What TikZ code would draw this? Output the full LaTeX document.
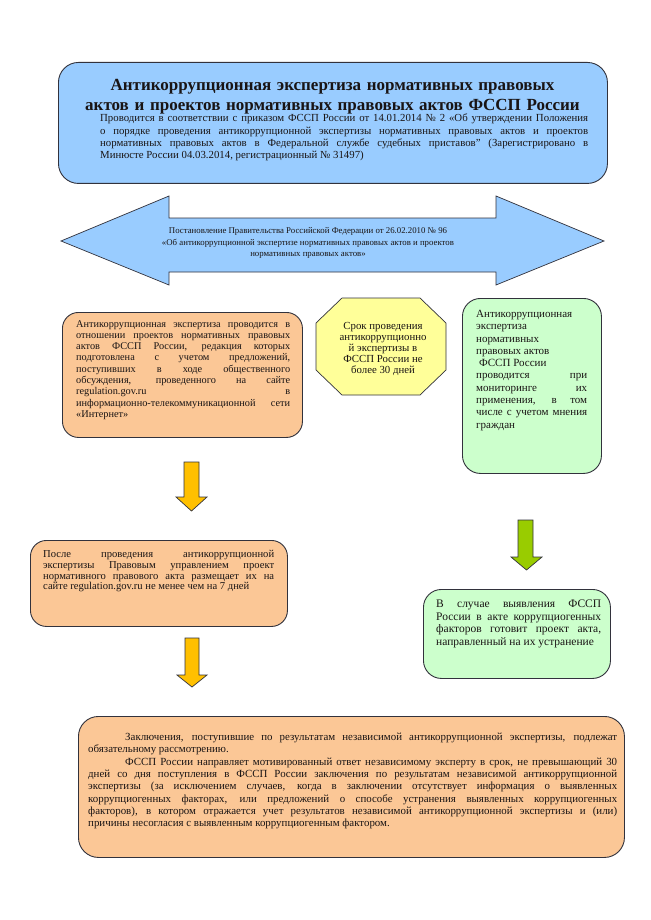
\documentclass[tikz,border=0pt]{standalone}
\usepackage{fontspec}
\setmainfont{Liberation Serif}
\definecolor{boxblue}{RGB}{153,204,255}
\definecolor{boxorange}{RGB}{251,199,150}
\definecolor{boxyellow}{RGB}{255,255,153}
\definecolor{boxgreen}{RGB}{204,255,204}
\definecolor{arrowgold}{RGB}{255,192,0}
\definecolor{arrowlime}{RGB}{153,204,0}
\definecolor{edge}{RGB}{50,50,60}
\definecolor{ink}{RGB}{25,20,20}
\tikzset{
  panel/.style={draw=edge, line width=0.9pt, anchor=north west, inner sep=0pt},
  body/.style={inner sep=0pt, anchor=north west, align=justify, text=ink, font=\fontsize{10}{11.3}\selectfont},
  blockarrow/.style={draw=edge, line width=0.7pt, line join=miter},
}
\begin{document}
\begin{tikzpicture}[x=1pt,y=-1pt]
\useasboundingbox[fill=white] (0,0) rectangle (650,920);

% top blue box
\node[panel, fill=boxblue, rounded corners=20pt, minimum width=549pt, minimum height=121pt] (head) at (58,62) {};
\node[inner sep=0pt, anchor=north, align=center, text width=520pt, text=ink, font=\bfseries\fontsize{17}{20}\selectfont] (title) at (332.5,79)
  {Антикоррупционная экспертиза нормативных правовых\\актов и проектов нормативных правовых актов ФССП России};
\node[body, text width=488pt, font=\fontsize{10.8}{12.3}\selectfont] (order) at (100,114)
  {Проводится в соответствии с приказом ФССП России от 14.01.2014 № 2 «Об утверждении Положения\linebreak о порядке проведения антикоррупционной экспертизы нормативных правовых актов и проектов\linebreak нормативных правовых актов в Федеральной службе судебных приставов" (Зарегистрировано в\linebreak Минюсте России 04.03.2014, регистрационный № 31497)};

% double arrow
\draw[blockarrow, fill=boxblue] (61,241) -- (169,196) -- (169,218) -- (496,218) -- (496,196) -- (604,241)
  -- (496,285) -- (496,272) -- (169,272) -- (169,285) -- cycle;
\node[inner sep=0pt, align=center, text=ink, font=\fontsize{8.8}{11.8}\selectfont] (decree) at (308,243)
  {Постановление Правительства Российской Федерации от 26.02.2010 № 96\\
   «Об антикоррупционной экспертизе нормативных правовых актов и проектов\\
   нормативных правовых актов»};

% left orange box
\node[panel, fill=boxorange, rounded corners=16pt, minimum width=240pt, minimum height=125pt] (draft) at (62,312) {};
\node[body, text width=214pt, font=\fontsize{10.3}{11.3}\selectfont] (drafttext) at (76,320)
  {Антикоррупционная экспертиза проводится в\linebreak
   отношении проектов нормативных правовых\linebreak
   актов ФССП России, редакция которых\linebreak
   подготовлена с учетом предложений,\linebreak
   поступивших в ходе общественного\linebreak
   обсуждения, проведенного на сайте\linebreak
   regulation.gov.ru в\linebreak
   информационно-телекоммуникационной сети\linebreak
   «Интернет»};

% octagon
\draw[blockarrow, fill=boxyellow] (342,298) -- (420,298) -- (446,323) -- (446,370) -- (420,395)
  -- (342,395) -- (316,370) -- (316,323) -- cycle;
\node[inner sep=0pt, align=center, text=ink, font=\fontsize{10.8}{11.2}\selectfont] (term) at (383,349)
  {Срок проведения\\антикоррупционно\\й экспертизы в\\ФССП России не\\более 30 дней};

% right green box
\node[panel, fill=boxgreen, rounded corners=18pt, minimum width=139pt, minimum height=175pt] (monitor) at (462,298) {};
\node[body, text width=111pt, font=\fontsize{11}{12.3}\selectfont] (monitortext) at (476,310)
  {Антикоррупционная\\
   экспертиза\\
   нормативных\\
   правовых актов\\
   \hspace*{3pt}ФССП России\\
   проводится при\linebreak
   мониторинге их\linebreak
   применения, в том\linebreak
   числе с учетом мнения\linebreak
   граждан};

% yellow arrow 1
\draw[blockarrow, fill=arrowgold] (184,462) -- (199,462) -- (199,497) -- (207,497) -- (191.5,511)
  -- (176,497) -- (184,497) -- cycle;

% second orange box
\node[panel, fill=boxorange, rounded corners=16pt, minimum width=257pt, minimum height=86pt] (publish) at (30,540) {};
\node[body, text width=231pt, font=\fontsize{10.6}{10.8}\selectfont] (publishtext) at (43,550)
  {После проведения антикоррупционной\linebreak
   экспертизы Правовым управлением проект\linebreak
   нормативного правового акта размещает их на\linebreak
   сайте regulation.gov.ru не менее чем на 7 дней};

% yellow arrow 2
\draw[blockarrow, fill=arrowgold] (185,638) -- (199,638) -- (199,675) -- (207,675) -- (192,687)
  -- (177,675) -- (185,675) -- cycle;

% green arrow
\draw[blockarrow, fill=arrowlime] (518,520) -- (533,520) -- (533,557) -- (542,557) -- (526.5,570)
  -- (511,557) -- (518,557) -- cycle;

% second green box
\node[panel, fill=boxgreen, rounded corners=18pt, minimum width=187pt, minimum height=89pt] (remedy) at (423,589) {};
\node[body, text width=165pt, font=\fontsize{11.5}{12.4}\selectfont] (remedytext) at (436,600)
  {В случае выявления ФССП\linebreak
   России в акте коррупциогенных\linebreak
   факторов готовит проект акта,\linebreak
   направленный на их устранение};

% bottom orange box
\node[panel, fill=boxorange, rounded corners=20pt, minimum width=546pt, minimum height=141pt] (final) at (78,716) {};
\node[body, text width=529pt, font=\fontsize{10.9}{12.3}\selectfont] (finaltext) at (88,733)
  {\hspace*{37pt}Заключения, поступившие по результатам независимой антикоррупционной экспертизы, подлежат\linebreak
   обязательному рассмотрению.\par
   \hspace*{37pt}ФССП России направляет мотивированный ответ независимому эксперту в срок, не превышающий 30\linebreak
   дней со дня поступления в ФССП России заключения по результатам независимой антикоррупционной\linebreak
   экспертизы (за исключением случаев, когда в заключении отсутствует информация о выявленных\linebreak
   коррупциогенных факторах, или предложений о способе устранения выявленных коррупциогенных\linebreak
   факторов), в котором отражается учет результатов независимой антикоррупционной экспертизы и (или)\linebreak
   причины несогласия с выявленным коррупциогенным фактором.};
\end{tikzpicture}
\end{document}
